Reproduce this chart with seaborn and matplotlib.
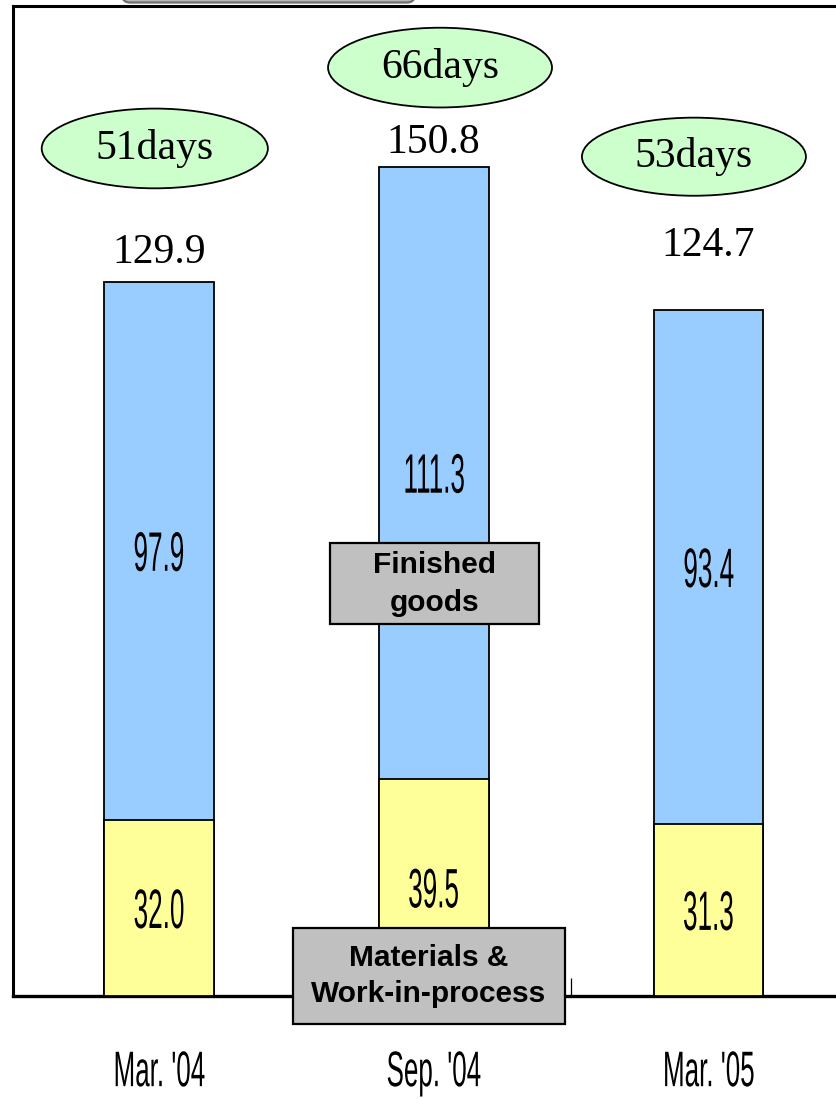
import numpy as np
import pandas as pd
import matplotlib
matplotlib.use("Agg")
import matplotlib.pyplot as plt
import matplotlib.patheffects as pe
from matplotlib.patches import Ellipse, Rectangle, FancyBboxPatch
from matplotlib.transforms import Affine2D
import seaborn as sns

# Inventory by period (billion yen)
periods = ["Mar. '04", "Sep. '04", "Mar. '05"]
materials_wip = [32.0, 39.5, 31.3]
finished_goods = [97.9, 111.3, 93.4]
turnover_days = [51, 66, 53]

totals = [round(m + f, 1) for m, f in zip(materials_wip, finished_goods)]

BLUE = "#99CCFF"
YELLOW = "#FFFF99"
GREEN = "#CCFFCC"
GREY = "#C0C0C0"


class Condense(pe.AbstractPathEffect):
    """Squeeze glyphs horizontally about their own centre (narrow typeface look)."""

    def __init__(self, sx):
        super().__init__()
        self.sx = sx

    def draw_path(self, renderer, gc, tpath, affine, rgbFace=None):
        ext = tpath.get_extents()
        cx = 0.5 * (ext.x0 + ext.x1)
        squeeze = Affine2D().translate(-cx, 0).scale(self.sx, 1.0).translate(cx, 0)
        renderer.draw_path(gc, tpath, squeeze + affine, rgbFace)


sns.set_style("white")
plt.rcParams["font.family"] = ["Liberation Sans", "DejaVu Sans"]
plt.rcParams["text.color"] = "black"
plt.rcParams["xtick.color"] = "black"
plt.rcParams["xtick.labelcolor"] = "black"

W, H, DPI = 836, 1099, 100
fig = plt.figure(figsize=(W / DPI, H / DPI), dpi=DPI)
ax = fig.add_axes([13 / W, (H - 996) / H, (W - 13) / W, 990 / H])

df = pd.DataFrame({"period": periods, "total": totals, "materials": materials_wip})

sns.barplot(data=df, x="period", y="total", color=BLUE, saturation=1, width=0.4,
            edgecolor="black", linewidth=1.3, ax=ax, zorder=2)
sns.barplot(data=df, x="period", y="materials", color=YELLOW, saturation=1, width=0.4,
            edgecolor="black", linewidth=1.3, ax=ax, zorder=3)

ax.set_xlim(-0.531, 2.464)
ax.set_ylim(0, 180)
ax.set_xlabel("")
ax.set_ylabel("")
ax.set_yticks([])

# Spines: framed on top and left, heavy baseline, open to the right
for side in ("top", "left"):
    ax.spines[side].set_visible(True)
    ax.spines[side].set_linewidth(2.2)
    ax.spines[side].set_color("black")
ax.spines["bottom"].set_linewidth(2.4)
ax.spines["bottom"].set_color("black")
ax.spines["right"].set_visible(False)

# Category labels
ax.set_xticks(range(len(periods)))
ax.set_xticklabels(periods, fontsize=36, color="black")
ax.tick_params(axis="x", which="major", length=0, pad=39)
for lbl in ax.get_xticklabels():
    lbl.set_path_effects([Condense(0.52)])
ax.set_xticks([0.5, 1.5], minor=True)
ax.tick_params(axis="x", which="minor", direction="in", length=13, width=0.9,
               color="black", bottom=True)

# Segment values
narrow = [Condense(0.47)]
for i, (m, f) in enumerate(zip(materials_wip, finished_goods)):
    ax.text(i, m / 2, f"{m:.1f}", ha="center", va="center_baseline", fontsize=40,
            color="black", path_effects=narrow, zorder=5)
    ax.text(i, m + f / 2, f"{f:.1f}", ha="center", va="center_baseline", fontsize=40,
            color="black", path_effects=narrow, zorder=5)

# Totals above the bars
total_offsets = [13.7, 10.0, 39.0]
for i, (t, off) in enumerate(zip(totals, total_offsets)):
    ax.annotate(f"{t:.1f}", xy=(i, t), xytext=(0, off), textcoords="offset points",
                ha="center", va="baseline", fontsize=30, family="Liberation Serif",
                color="black", zorder=5)

# Inventory turnover days in green ovals
oval_centres = [(-0.015, 154.1), (1.023, 168.8), (1.947, 152.6)]
oval_sizes = [(0.823, 14.5), (0.815, 14.5), (0.815, 14.2)]
for d, (cx, cy), (w, h) in zip(turnover_days, oval_centres, oval_sizes):
    ax.add_patch(Ellipse((cx, cy), w, h, facecolor=GREEN, edgecolor="black",
                         linewidth=1.3, zorder=4, clip_on=False))
    ax.text(cx, cy, f"{d}days", ha="center", va="center", fontsize=30,
            family="Liberation Serif", color="black", zorder=5)

# Series captions in grey boxes
captions = [
    ("Finished\ngoods", (0.622, 67.6), (0.761, 14.7), 1.45),
    ("Materials &\nWork-in-process", (0.488, -5.09), (0.990, 17.44), 1.35),
]
for txt, (x0, y0), (w, h), ls in captions:
    ax.add_patch(Rectangle((x0, y0), w, h, facecolor=GREY, edgecolor="black",
                           linewidth=1.6, zorder=6, clip_on=False))
    ax.text(x0 + w / 2, y0 + h / 2, txt, ha="center", va="center", fontsize=21.5,
            fontweight="bold", linespacing=ls, color="black", zorder=7, clip_on=False)

# Title plate cut off at the top edge
fig.patches.append(FancyBboxPatch((1.22, 10.965), 2.93, 0.4,
                                  boxstyle="round,pad=0,rounding_size=0.08",
                                  transform=fig.dpi_scale_trans, facecolor="#B8B8B8",
                                  edgecolor="#707070", linewidth=1.6, zorder=10))

fig.savefig("out.png", dpi=DPI)
